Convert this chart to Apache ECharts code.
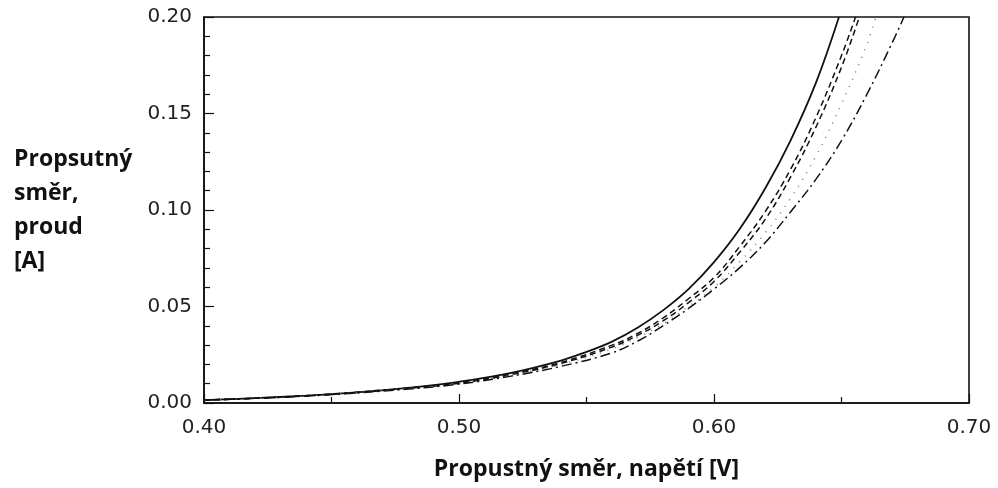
<!DOCTYPE html>
<html>
<head>
<meta charset="utf-8">
<script src="https://cdn.jsdelivr.net/npm/echarts@6/dist/echarts.min.js"></script>
<style>
 html,body{margin:0;padding:0;background:#fff;}
 #chart{width:998px;height:488px;}
</style>
</head>
<body>
<div id="chart"></div>
<script>
// napeti [V] a proud [A]
var voltSolid = [0.40,0.42,0.44,0.46,0.48,0.50,0.52,0.54,0.55,0.56,0.57,0.58,0.59,0.60,0.61,0.62,0.63,0.64,0.649];
var currSolid = [0.0015,0.0025,0.0038,0.0055,0.0078,0.011,0.0155,0.022,0.0265,0.0318,0.039,0.048,0.059,0.073,0.090,0.111,0.136,0.166,0.200];

var voltDashA = [0.40,0.44,0.48,0.50,0.52,0.54,0.56,0.57,0.58,0.59,0.60,0.61,0.62,0.63,0.64,0.65,0.6555];
var currDashA = [0.0015,0.0038,0.0078,0.0105,0.015,0.021,0.030,0.036,0.044,0.054,0.065,0.081,0.099,0.121,0.148,0.180,0.200];

var voltDashB = [0.40,0.44,0.48,0.50,0.52,0.54,0.56,0.57,0.58,0.59,0.60,0.61,0.62,0.63,0.64,0.65,0.657];
var currDashB = [0.0015,0.0037,0.0076,0.0102,0.0146,0.0205,0.029,0.035,0.0425,0.052,0.063,0.078,0.095,0.117,0.143,0.174,0.200];

var voltDot = [0.40,0.44,0.48,0.50,0.52,0.54,0.56,0.57,0.58,0.59,0.60,0.61,0.62,0.63,0.64,0.65,0.66,0.6635];
var currDot = [0.0015,0.0037,0.0076,0.010,0.0145,0.020,0.028,0.034,0.041,0.050,0.060,0.073,0.088,0.106,0.128,0.155,0.186,0.200];

var voltDashDot = [0.40,0.44,0.48,0.50,0.52,0.54,0.56,0.57,0.58,0.59,0.60,0.61,0.62,0.63,0.64,0.65,0.66,0.67,0.6745];
var currDashDot = [0.0015,0.0036,0.0072,0.0098,0.0138,0.019,0.026,0.032,0.040,0.049,0.059,0.070,0.083,0.099,0.116,0.136,0.160,0.187,0.200];

var xTicks = [0.40,0.50,0.60,0.70];
var yTicks = [0.00,0.05,0.10,0.15,0.20];

function pairs(xs,ys){
  var out=[];
  for(var i=0;i<xs.length;i++) out.push([xs[i],ys[i]]);
  return out;
}

function curve(xs,ys,type,color,width){
  return {
    type:'line',
    data:pairs(xs,ys),
    smooth:0.4,
    showSymbol:false,
    symbol:'none',
    silent:true,
    lineStyle:{color:color,width:width,type:type}
  };
}

var chart=echarts.init(document.getElementById('chart'));
var option={
  animation:false,
  backgroundColor:'#fff',
  grid:{left:204,right:29,top:17,bottom:85,show:true,borderColor:'#111',borderWidth:1.6},
  xAxis:{
    type:'value',
    min:xTicks[0],max:xTicks[xTicks.length-1],interval:0.1,
    axisLine:{show:true,lineStyle:{color:'#111',width:1.6}},
    axisTick:{show:true,inside:true,length:9,lineStyle:{color:'#111',width:1.2}},
    minorTick:{show:true,splitNumber:2,length:6,lineStyle:{color:'#111',width:1.2}},
    splitLine:{show:false},
    axisLabel:{margin:15,color:'#222',fontSize:20,fontFamily:'DejaVu Sans',
      formatter:function(v){return v.toFixed(2);}},
    name:'Propustný směr, napětí [V]',
    nameLocation:'middle',nameGap:55,
    nameTextStyle:{fontFamily:'Open Sans',fontWeight:'bold',fontSize:23,color:'#111'}
  },
  yAxis:{
    type:'value',
    min:yTicks[0],max:yTicks[yTicks.length-1],interval:0.05,
    axisLine:{show:true,lineStyle:{color:'#111',width:1.6}},
    axisTick:{show:true,inside:true,length:10,lineStyle:{color:'#111',width:1.2}},
    minorTick:{show:true,splitNumber:5,length:6,lineStyle:{color:'#111',width:1.2}},
    splitLine:{show:false},
    axisLabel:{margin:12,color:'#222',fontSize:20,fontFamily:'DejaVu Sans',
      formatter:function(v){return v.toFixed(2);}},
    name:'Propsutný\nsměr,\nproud\n[A]',
    nameLocation:'middle',nameRotate:0,nameGap:190,
    nameTextStyle:{fontFamily:'Open Sans',fontWeight:'bold',fontSize:23,color:'#111',
      align:'left',lineHeight:34,padding:[0,0,6,0]}
  },
  series:[
    curve(voltSolid,currSolid,'solid','#111',1.8),
    curve(voltDashA,currDashA,[6,4],'#111',1.5),
    curve(voltDashB,currDashB,[6,4],'#111',1.5),
    curve(voltDot,currDot,[1,7],'#777',1.5),
    curve(voltDashDot,currDashDot,[10,4,2,4],'#111',1.5)
  ]
};
chart.setOption(option);
</script>
</body>
</html>
